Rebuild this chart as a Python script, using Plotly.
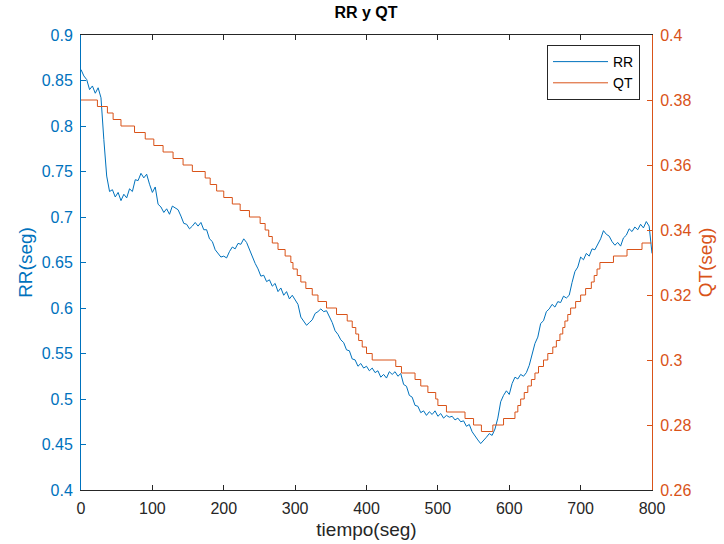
import plotly.graph_objects as go

# ---- data ----
tiempo_rr = list(range(0, 800, 4)) + [800]
rr = [
    0.862, 0.855, 0.851, 0.840, 0.844, 0.836, 0.842, 0.831, 0.785, 0.745,
    0.728, 0.730, 0.722, 0.727, 0.718, 0.725, 0.721, 0.731, 0.728, 0.741,
    0.740, 0.748, 0.743, 0.747, 0.736, 0.727, 0.733, 0.714, 0.711, 0.705,
    0.709, 0.703, 0.712, 0.710, 0.708, 0.701, 0.693, 0.692, 0.687, 0.690,
    0.694, 0.690, 0.694, 0.686, 0.686, 0.676, 0.673, 0.664, 0.660, 0.656,
    0.657, 0.655, 0.662, 0.667, 0.665, 0.671, 0.670, 0.676, 0.672, 0.664,
    0.657, 0.649, 0.643, 0.635, 0.636, 0.629, 0.631, 0.624, 0.627, 0.618,
    0.622, 0.614, 0.618, 0.610, 0.614, 0.609, 0.604, 0.590, 0.586, 0.581,
    0.584, 0.587, 0.594, 0.596, 0.599, 0.596, 0.597, 0.591, 0.584, 0.575,
    0.571, 0.565, 0.562, 0.554, 0.553, 0.544, 0.543, 0.536, 0.539, 0.534,
    0.536, 0.531, 0.534, 0.529, 0.531, 0.524, 0.527, 0.523, 0.530, 0.527,
    0.530, 0.525, 0.528, 0.516, 0.514, 0.504, 0.502, 0.493, 0.492, 0.485,
    0.487, 0.482, 0.486, 0.483, 0.487, 0.481, 0.484, 0.479, 0.482, 0.480,
    0.481, 0.477, 0.479, 0.475, 0.476, 0.470, 0.472, 0.464, 0.459, 0.455,
    0.451, 0.454, 0.458, 0.462, 0.460, 0.467, 0.479, 0.497, 0.504, 0.509,
    0.505, 0.517, 0.524, 0.522, 0.527, 0.525, 0.529, 0.537, 0.548, 0.561,
    0.568, 0.583, 0.586, 0.596, 0.599, 0.604, 0.601, 0.607, 0.606, 0.613,
    0.611, 0.614, 0.628, 0.640, 0.645, 0.656, 0.653, 0.660, 0.657, 0.665,
    0.664, 0.670, 0.676, 0.685, 0.681, 0.679, 0.673, 0.669, 0.672, 0.668,
    0.677, 0.680, 0.687, 0.684, 0.689, 0.686, 0.692, 0.688, 0.695, 0.690,
    0.660,
]

tiempo_qt = [0, 23, 37, 45, 56, 75, 90, 102, 115, 129, 143, 156, 174, 181, 190,
             200, 212, 223, 236, 251, 258, 263, 268, 276, 286, 294, 297, 303,
             308, 315, 324, 332, 344, 358, 373, 380, 385, 389, 394, 400, 408,
             441, 449, 468, 476, 486, 497, 500, 512, 538, 550, 561, 577, 592,
             608, 612, 616, 621, 626, 631, 636, 641, 648, 654, 661, 666, 671,
             675, 678, 682, 686, 693, 700, 707, 715, 719, 723, 727, 746, 765,
             786, 799]
qt = [0.380, 0.378, 0.376, 0.374, 0.372, 0.370, 0.368, 0.366, 0.364, 0.362,
      0.360, 0.358, 0.356, 0.354, 0.352, 0.350, 0.348, 0.346, 0.344, 0.342,
      0.340, 0.338, 0.336, 0.334, 0.332, 0.330, 0.328, 0.326, 0.324, 0.322,
      0.320, 0.318, 0.316, 0.314, 0.312, 0.310, 0.308, 0.306, 0.304, 0.302,
      0.300, 0.298, 0.296, 0.294, 0.292, 0.290, 0.288, 0.286, 0.284, 0.282,
      0.280, 0.278, 0.280, 0.282, 0.284, 0.286, 0.288, 0.290, 0.292, 0.294,
      0.296, 0.298, 0.300, 0.302, 0.304, 0.306, 0.308, 0.310, 0.312, 0.314,
      0.316, 0.318, 0.320, 0.322, 0.324, 0.326, 0.328, 0.330, 0.332, 0.334,
      0.336, 0.336]

x_ticks = [0, 100, 200, 300, 400, 500, 600, 700, 800]
rr_ticks = [0.4, 0.45, 0.5, 0.55, 0.6, 0.65, 0.7, 0.75, 0.8, 0.85, 0.9]
rr_tick_text = ["0.4", "0.45", "0.5", "0.55", "0.6", "0.65", "0.7", "0.75", "0.8", "0.85", "0.9"]
qt_ticks = [0.26, 0.28, 0.30, 0.32, 0.34, 0.36, 0.38, 0.40]
qt_tick_text = ["0.26", "0.28", "0.3", "0.32", "0.34", "0.36", "0.38", "0.4"]

BLUE = "#0072BD"
ORANGE = "#D95319"
DARK = "#262626"
FONT = "Liberation Sans, Arial, sans-serif"

fig = go.Figure()
fig.add_trace(go.Scatter(x=tiempo_rr, y=rr, mode="lines", name="RR",
                         line=dict(color=BLUE, width=1), yaxis="y"))
fig.add_trace(go.Scatter(x=tiempo_qt, y=qt, mode="lines", name="QT",
                         line=dict(color=ORANGE, width=1, shape="hv"), yaxis="y2"))

fig.update_layout(
    width=724, height=544,
    margin=dict(l=81, r=72, t=35, b=54),
    paper_bgcolor="white", plot_bgcolor="white",
    font=dict(family=FONT, size=16, color=DARK),
    title=dict(text="<b>RR y QT</b>", x=366 / 724, xanchor="center",
               y=1 - 12 / 544, yanchor="middle", font=dict(size=16, color="black")),
    xaxis=dict(range=[0, 800], tickvals=x_ticks, ticktext=[str(v) for v in x_ticks],
               ticks="inside", ticklen=5, tickcolor=DARK, showline=True, linecolor=DARK,
               linewidth=1, mirror="ticks", showgrid=False, zeroline=False, automargin=False,
               tickfont=dict(size=16, color=DARK), ticklabelstandoff=4,
               title=dict(text="tiempo(seg)", font=dict(size=19, color=DARK), standoff=6)),
    yaxis=dict(range=[0.4, 0.9], tickvals=rr_ticks, ticktext=rr_tick_text,
               ticks="inside", ticklen=5, tickcolor=BLUE, showline=True, linecolor=BLUE,
               linewidth=1, showgrid=False, zeroline=False, automargin=False,
               tickfont=dict(size=16, color=BLUE), ticklabelstandoff=4,
               title=dict(text="RR(seg)", font=dict(size=19, color=BLUE), standoff=4)),
    yaxis2=dict(range=[0.26, 0.4], tickvals=qt_ticks, ticktext=qt_tick_text,
                overlaying="y", side="right", anchor="x",
                ticks="inside", ticklen=5, tickcolor=ORANGE, showline=True, linecolor=ORANGE,
                linewidth=1, showgrid=False, zeroline=False, automargin=False,
                tickfont=dict(size=16, color=ORANGE), ticklabelstandoff=4,
                title=dict(text="QT(seg)", font=dict(size=19, color=ORANGE), standoff=8)),
    legend=dict(x=0.979, y=0.978, xanchor="right", yanchor="top",
                bgcolor="white", bordercolor=DARK, borderwidth=1,
                font=dict(size=14, color="black"), itemwidth=55),
    showlegend=True,
)

fig.write_html("out.html")
